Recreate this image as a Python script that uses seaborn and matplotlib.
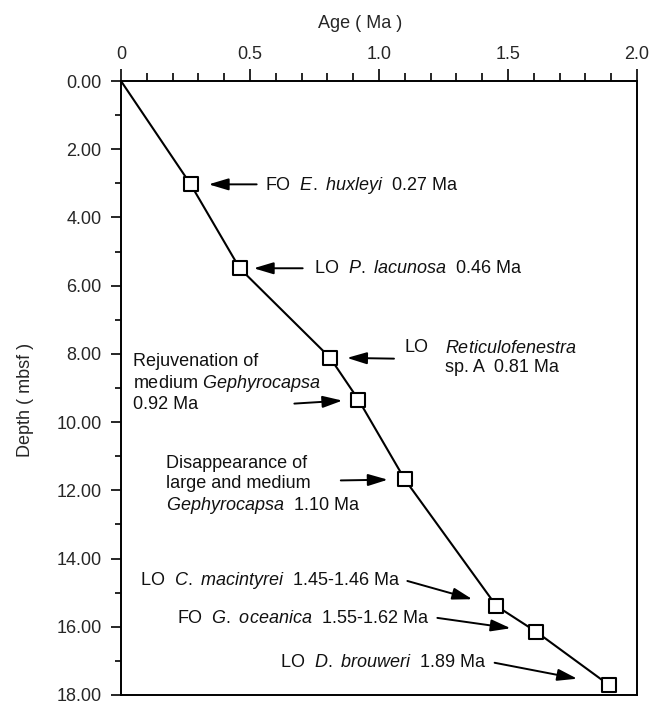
import matplotlib
matplotlib.use("Agg")
import matplotlib.pyplot as plt
import seaborn as sns
import pandas as pd
from matplotlib.ticker import FixedLocator, MultipleLocator

# ---------------- data ----------------
ages = [0.0, 0.27, 0.46, 0.81, 0.92, 1.10, 1.455, 1.61, 1.89]
depths = [0.0, 3.03, 5.49, 8.11, 9.34, 11.68, 15.39, 16.15, 17.70]

event_texts = [
    [r"FO  $\mathit{E.\ huxleyi}$  0.27 Ma"],
    [r"LO  $\mathit{P.\ lacunosa}$  0.46 Ma"],
    ["LO", "$\\mathit{Reticulofenestra}$\nsp. A  0.81 Ma"],
    ["Rejuvenation of\nmedium $\\mathit{Gephyrocapsa}$\n0.92 Ma"],
    ["Disappearance of\nlarge and medium\n$\\mathit{Gephyrocapsa}$  1.10 Ma"],
    [r"LO  $\mathit{C.\ macintyrei}$  1.45-1.46 Ma"],
    [r"FO  $\mathit{G.\ oceanica}$  1.55-1.62 Ma"],
    [r"LO  $\mathit{D.\ brouweri}$  1.89 Ma"],
]

x_ticks = [0.0, 0.5, 1.0, 1.5, 2.0]
x_tick_labels = ["0", "0.5", "1.0", "1.5", "2.0"]
y_ticks = [0, 2, 4, 6, 8, 10, 12, 14, 16, 18]
y_tick_labels = ["0.00", "2.00", "4.00", "6.00", "8.00", "10.00",
                 "12.00", "14.00", "16.00", "18.00"]

# ---------------- layout (pixels relative to each marker) ----------------
text_offsets = [
    [(74, -1)],
    [(74, 0)],
    [(75, 10), (115, -0.5)],
    [(-225, 16.5)],
    [(-239, -6)],
    [(-356, 25)],
    [(-359, 13)],
    [(-329, 22)],
]
arrow_tails = [(66, 0), (63, 0), (64, -1), (-64, -4), (-64, -1),
               (-89, 25), (-99, 14), (-114, 22)]
arrow_shrink = [18, 14, 17, 16, 17, 25, 26, 32]

# ---------------- style ----------------
sns.set_style("white")
plt.rcParams["font.family"] = ["Liberation Sans", "DejaVu Sans"]
plt.rcParams["mathtext.fontset"] = "custom"
plt.rcParams["mathtext.rm"] = "Liberation Sans"
plt.rcParams["mathtext.it"] = "Liberation Sans:italic"
plt.rcParams["text.color"] = "#111111"

DPI = 100
L, R, T, B = 121, 637, 81, 695
fig = plt.figure(figsize=(6.5, 7.05), dpi=DPI)
ax = fig.add_axes([L / 650, 1 - B / 705, (R - L) / 650, (B - T) / 705])

df = pd.DataFrame({"age": ages, "depth": depths})
sns.lineplot(data=df, x="age", y="depth", sort=False, estimator=None,
             color="black", lw=1.5, ax=ax, zorder=2)
sns.scatterplot(data=df.iloc[1:], x="age", y="depth", marker="s", s=95,
                facecolor="white", edgecolor="black", linewidth=1.5,
                ax=ax, zorder=3)

ax.set_xlim(0, 2.0)
ax.set_ylim(18, 0)

ax.xaxis.tick_top()
ax.xaxis.set_major_locator(FixedLocator(x_ticks))
ax.set_xticklabels(x_tick_labels)
ax.xaxis.set_minor_locator(MultipleLocator(0.1))
ax.yaxis.set_major_locator(FixedLocator(y_ticks))
ax.set_yticklabels(y_tick_labels)
ax.yaxis.set_minor_locator(MultipleLocator(1))

ax.tick_params(axis="x", which="major", top=True, bottom=False, length=9,
               width=1.4, pad=4, labelsize=13, direction="out")
ax.tick_params(axis="x", which="minor", top=True, bottom=False, length=6,
               width=1.4, direction="out")
ax.tick_params(axis="y", which="major", left=True, length=7, width=1.4,
               pad=7, labelsize=13, direction="out")
ax.tick_params(axis="y", which="minor", left=True, length=4.3, width=1.4,
               direction="out")

for sp in ax.spines.values():
    sp.set_linewidth(1.4)
    sp.set_color("black")
    sp.set_visible(True)

W, H = R - L, B - T
ax.set_xlabel("Age ( Ma )", fontsize=13)
ax.xaxis.set_label_position("top")
ax.xaxis.set_label_coords((360 - L) / W, 1 + (T - 23) / H)
ax.xaxis.label.set_va("center")
ax.set_ylabel("Depth ( mbsf )", fontsize=13)
ax.yaxis.set_label_coords((26 - L) / W, 1 - (400 - T) / H)
ax.yaxis.label.set_va("center")

ev_ages = ages[1:]
ev_depths = depths[1:]
for i, (a, d) in enumerate(zip(ev_ages, ev_depths)):
    for txt, (dx, dy) in zip(event_texts[i], text_offsets[i]):
        ax.annotate(txt, xy=(a, d), xytext=(dx, dy), textcoords="offset pixels",
                    ha="left", va="center", fontsize=13, linespacing=1.2)
    tx, ty = arrow_tails[i]
    ax.annotate("", xy=(a, d), xytext=(tx, ty), textcoords="offset pixels",
                arrowprops=dict(arrowstyle="-|>,head_length=0.6,head_width=0.18",
                                mutation_scale=20, lw=1.4, color="black",
                                shrinkA=0, shrinkB=arrow_shrink[i] * 72 / DPI))

fig.savefig("out.png", dpi=DPI)
